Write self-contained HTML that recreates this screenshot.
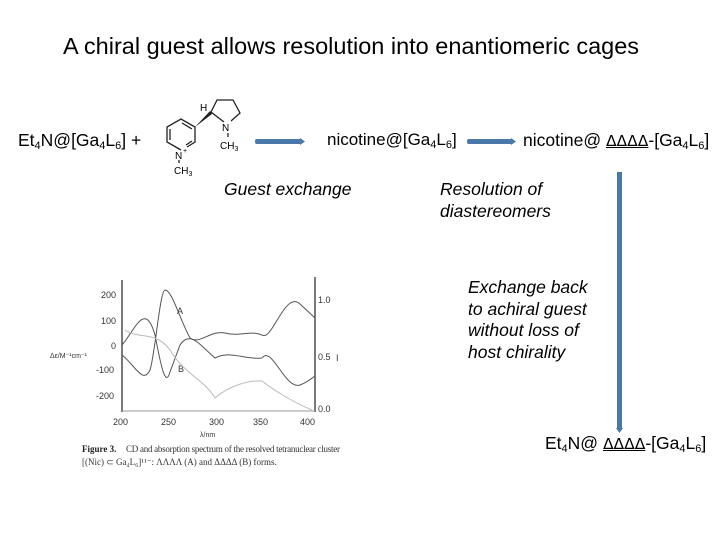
<!DOCTYPE html>
<html><head><meta charset="utf-8"><style>
body{margin:0;width:720px;height:540px;background:#fff;position:relative;overflow:hidden;font-family:"Liberation Sans",sans-serif;color:#000}
.t{position:absolute;white-space:nowrap}
sub{font-size:11px;vertical-align:-3px;line-height:0}
.i{font-style:italic;font-size:17.5px;line-height:21.7px}
.d{text-decoration:underline;font-family:"DejaVu Sans","Liberation Sans",sans-serif;font-size:15.5px}
</style></head><body>
<div class="t" style="left:63px;top:33px;font-size:23.5px">A chiral guest allows resolution into enantiomeric cages</div>
<div class="t" style="left:18px;top:130px;font-size:17.5px">Et<sub>4</sub>N@[Ga<sub>4</sub>L<sub>6</sub>] +</div>
<div class="t" style="left:327px;top:130px;font-size:17px">nicotine@[Ga<sub>4</sub>L<sub>6</sub>]</div>
<div class="t" style="left:523px;top:130px;font-size:17.5px">nicotine@ <span class="d">ΔΔΔΔ</span>-[Ga<sub>4</sub>L<sub>6</sub>]</div>
<div class="t i" style="left:224px;top:179px">Guest exchange</div>
<div class="t i" style="left:440px;top:179px">Resolution of<br>diastereomers</div>
<div class="t i" style="left:468px;top:277px">Exchange back<br>to achiral guest<br>without loss of<br>host chirality</div>
<div class="t" style="left:545px;top:433px;font-size:17.5px">Et<sub>4</sub>N@ <span class="d">ΔΔΔΔ</span>-[Ga<sub>4</sub>L<sub>6</sub>]</div>
<svg width="720" height="540" style="position:absolute;left:0;top:0">
<g fill="#4a78a8">
<rect x="255" y="139" width="47" height="5" rx="2"/><polygon points="300,138 305,141.5 300,145"/>
<rect x="467" y="139" width="46" height="5" rx="2"/><polygon points="511,138 516,141.5 511,145"/>
<rect x="617" y="172" width="5" height="258"/><polygon points="616,428 619.5,433 623,428"/>
</g>
<g stroke="#222" stroke-width="1.3" fill="none">
<polyline points="181,150 167,142 167,127 181,119 195,127 195,142 187,147"/>
<line x1="170" y1="129" x2="170" y2="140"/><line x1="192" y1="129" x2="182" y2="123"/>
<line x1="192" y1="141" x2="186" y2="145"/>
<polyline points="224,122 211,112 217,100 233,100 240,113 231,121"/>
<line x1="228" y1="133" x2="228" y2="137"/>
<line x1="179" y1="160" x2="179" y2="163"/>
</g>
<polygon points="195,127 210,111 212,114" fill="#222"/>
<text x="200" y="111" font-size="10" font-family="Liberation Sans">H</text>
<text x="222" y="131" font-size="10" font-family="Liberation Sans">N</text>
<text x="220" y="149" font-size="10" font-family="Liberation Sans">CH<tspan font-size="7" dy="2">3</tspan></text>
<text x="175" y="159" font-size="10" font-family="Liberation Sans">N</text>
<text x="183" y="153" font-size="7" font-family="Liberation Sans">+</text>
<text x="174" y="174" font-size="10" font-family="Liberation Sans">CH<tspan font-size="7" dy="2">3</tspan></text>
<!-- CD figure -->
<g font-family="Liberation Sans" font-size="9" fill="#333">
<line x1="122" y1="280" x2="122" y2="412" stroke="#333" stroke-width="1.3"/>
<line x1="315" y1="277" x2="315" y2="412" stroke="#333" stroke-width="1.3"/>
<line x1="122" y1="411" x2="315" y2="411" stroke="#999"/>
<text x="101" y="298">200</text><text x="101" y="324">100</text><text x="111" y="349">0</text>
<text x="96" y="373">-100</text><text x="96" y="399">-200</text>
<text x="318" y="303">1.0</text><text x="318" y="360">0.5</text><text x="318" y="412">0.0</text>
<text x="113" y="425">200</text><text x="161" y="425">250</text><text x="209" y="425">300</text><text x="253" y="425">350</text><text x="300" y="425">400</text>
<text x="177" y="314">A</text><text x="178" y="372">B</text>
<text x="336" y="361">I</text>
<text x="50" y="358" font-size="7">Δε/M⁻¹cm⁻¹</text>
<text x="200" y="437" font-size="7">λ/nm</text>
</g>
<g fill="none" stroke-width="1">
<path d="M122,345 C135,330 145,300 155,335 C160,360 165,390 170,372 L180,345 C190,330 200,345 215,358 C230,350 245,360 262,358 C272,345 285,390 300,385 C308,382 312,378 315,376" stroke="#555"/>
<path d="M122,355 C135,365 143,385 150,370 C155,355 160,290 165,290 C172,290 180,320 190,338 C200,345 210,330 225,333 C240,337 250,330 262,335 C272,342 285,290 300,304 L315,318" stroke="#555"/>
<path d="M125,330 C140,340 155,330 170,350 C185,375 205,380 215,398 C230,385 250,380 262,381 C280,395 300,405 312,410" stroke="#bbb"/>
</g>
<text x="82" y="452" font-size="9" font-family="Liberation Serif" font-weight="bold" fill="#222">Figure 3.</text>
<text x="126" y="452" font-size="9" font-family="Liberation Serif" fill="#333" textLength="214">CD and absorption spectrum of the resolved tetranuclear cluster</text>
<text x="82" y="465" font-size="9" font-family="Liberation Serif" fill="#333">[(Nic) ⊂ Ga₄L₆]¹¹⁻: ΛΛΛΛ (A) and ΔΔΔΔ (B) forms.</text>
</svg>
</body></html>
